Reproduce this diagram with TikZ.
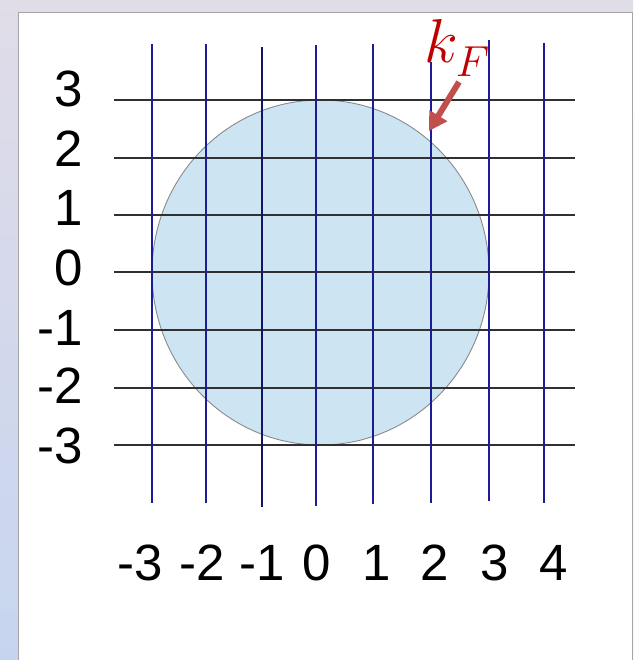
\RequirePackage{fix-cm}
\documentclass[tikz,border=0pt]{standalone}
\usepackage{fontspec}
\setmainfont{Liberation Sans}
\usetikzlibrary{arrows.meta}
\definecolor{gridnavy}{HTML}{1C1C96}
\definecolor{gridblack}{HTML}{303030}
\definecolor{circfill}{HTML}{CDE4F3}
\definecolor{circedge}{HTML}{8A8A8A}
\definecolor{kfred}{HTML}{C00000}
\definecolor{arrred}{HTML}{C0504D}
\definecolor{bgtop}{HTML}{E0DCE8}
\definecolor{bgbot}{HTML}{C6D5EF}
\tikzset{
  hline/.style={draw=gridblack, line width=1.2pt},
  vline/.style={draw=gridnavy, line width=1.1pt},
  lbl/.style={font=\fontsize{51}{56}\selectfont, inner sep=0pt},
}
\begin{document}
\begin{tikzpicture}[x=1pt,y=-1pt]
\useasboundingbox (0,0) rectangle (633,660);
\shade[top color=bgtop, bottom color=bgbot] (0,0) rectangle (633,660);
\filldraw[fill=white, draw=gray!70, line width=1pt] (18,13) rectangle (632,672);
% circle (Fermi sphere)
\filldraw[fill=circfill, draw=circedge, line width=0.9pt] (320.5,272.5) ellipse [x radius=168.5, y radius=172.5];
% horizontal grid lines
\foreach \yy in {100,158,215,272,330,388,445}
  \draw[hline] (114,\yy) -- (575,\yy);
% vertical grid lines
\draw[vline] (152,44) -- (152,503);
\draw[vline] (206,44) -- (206,503);
\draw[vline, draw=gridnavy!70!black] (262,47) -- (262,507);
\draw[vline] (316,45) -- (316,506);
\draw[vline] (373,44) -- (373,504);
\draw[vline] (431,62) -- (431,503);
\draw[vline] (489,40) -- (489,501);
\draw[vline] (544,43) -- (544,503);
% y labels
\node[lbl, anchor=base east] (y3) at (83,107) {3};
\node[lbl, anchor=base east] (y2) at (83,167) {2};
\node[lbl, anchor=base east] (y1) at (83,225) {1};
\node[lbl, anchor=base east] (y0) at (83,285) {0};
\node[lbl, anchor=base east] (ym1) at (83,345) {-1};
\node[lbl, anchor=base east] (ym2) at (83,403) {-2};
\node[lbl, anchor=base east] (ym3) at (83,463) {-3};
% x labels
\node[lbl, anchor=base] (xm3) at (140.5,580) {-3};
\node[lbl, anchor=base] (xm2) at (202,580) {-2};
\node[lbl, anchor=base] (xm1) at (262,580) {-1};
\node[lbl, anchor=base] (x0) at (316.5,580) {0};
\node[lbl, anchor=base] (x1) at (377,580) {1};
\node[lbl, anchor=base] (x2) at (435,580) {2};
\node[lbl, anchor=base] (x3) at (495,580) {3};
\node[lbl, anchor=base] (x4) at (553.5,580) {4};
% k_F label and arrow
\node[text=kfred, anchor=base west, inner sep=0pt, font=\fontsize{62}{70}\selectfont] (kf) at (424,63) {$k_{\lower4pt\hbox{$\scriptstyle F$}}$};
\coordinate (kfs) at (459,82);
\coordinate (kft) at (429,131);
\draw[draw=arrred, line width=6pt, -{Triangle[length=18pt,width=20pt]}] (kfs) -- (kft);
\end{tikzpicture}
\end{document}
